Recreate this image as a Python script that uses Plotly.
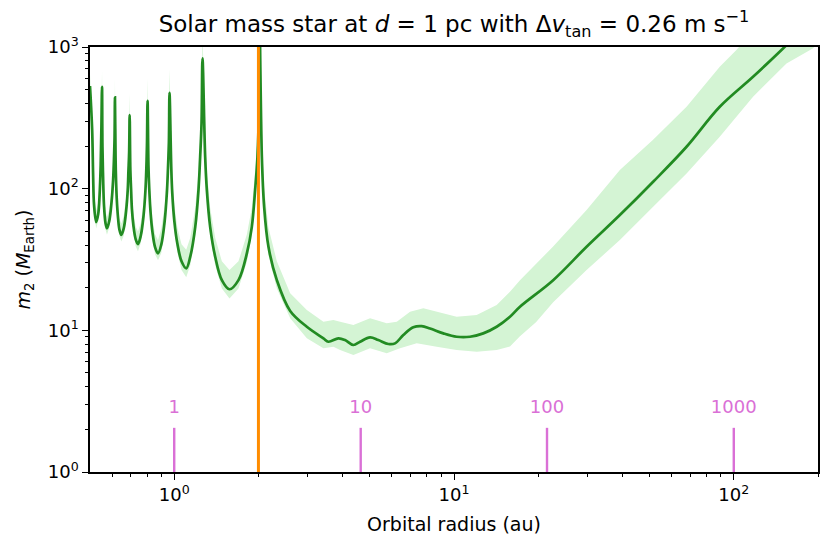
import plotly.graph_objects as go

# ---------------- data ----------------
# orbital radius (au) and median companion mass (Earth masses)
radius = [0.500, 0.509, 0.513, 0.517, 0.526,
          0.535, 0.541, 0.546, 0.549, 0.552, 0.554, 0.557, 0.561, 0.568, 0.575,
          0.586, 0.597, 0.605, 0.609, 0.612, 0.614, 0.617, 0.619, 0.623, 0.629, 0.637, 0.647,
          0.660, 0.673, 0.682, 0.686, 0.690, 0.693, 0.697, 0.701, 0.706, 0.715, 0.728, 0.742,
          0.759, 0.777, 0.789, 0.795, 0.799, 0.803, 0.809, 0.814, 0.823, 0.836, 0.854, 0.875,
          0.899, 0.924, 0.941, 0.950, 0.957, 0.962, 0.976, 0.984, 1.001, 1.026, 1.062, 1.104,
          1.141, 1.189, 1.221, 1.238, 1.252, 1.262, 1.290, 1.308, 1.344, 1.401, 1.480, 1.576,
          1.697, 1.818, 1.894, 1.946, 1.984, 2.007, 2.010, 2.057, 2.096, 2.172, 2.327, 2.597,
          2.978, 3.414, 3.557, 3.862, 4.080, 4.369, 4.616, 5.012, 5.364, 5.826, 6.156, 6.590,
          7.154, 7.665, 8.209, 9.158, 10.22, 11.41, 12.72, 14.21, 15.85, 17.21, 22.62, 29.78,
          39.16, 51.5, 67.8, 89.1, 117.2, 150.0, 172.1]

m2 = [530, 259, 124.7, 76.6, 58.1,
      66.2, 90.1, 146.8, 259, 524, 196.6, 118.8, 76.6, 57.2, 52.5,
      59.1, 80.4, 116.9, 161.8, 227.6, 440.9, 169.9, 122.7, 85.8, 64.1, 51.4, 47.1,
      52.4, 69.5, 97.7, 133.1, 181.3, 330.7, 135.3, 100.2, 71.8, 54.5, 44.1, 40.6,
      46.3, 64.5, 97.0, 139.8, 203.1, 417.2, 144.4, 101.0, 68.4, 49.4, 38.7, 34.9,
      40.3, 58.6, 92.5, 139.8, 211.5, 475.2, 140.9, 93.1, 59.1, 41.0, 30.7, 27.4,
      33.1, 53.8, 97.7, 168.0, 288.9, 831, 168.0, 97.7, 53.8, 33.1, 22.6, 19.5,
      22.6, 34.9, 53.8, 97.7, 168.0, 378.4, 3000, 168.0, 74.5, 38.9, 22.6, 13.7,
      10.6, 8.78, 8.31, 8.78, 8.54, 7.88, 8.31, 8.92, 8.54, 8.01, 8.09, 9.27,
      10.5, 10.7, 10.3, 9.52, 9.01, 9.01, 9.52, 10.6, 12.47, 14.68, 22.6, 38.9,
      65.1, 111.9, 197.6, 378.4, 616, 977, 1274]

# uncertainty band, inner part (same radii as the curve up to 2.327 au)
band_hi_inner = [640, 311, 150, 92, 70,
                 79.4, 108, 176, 311, 680, 236, 143, 92, 68.6, 63,
                 70.9, 96.5, 140, 194, 273, 600, 204, 147, 103, 76.9, 61.7, 56.5,
                 64.5, 85.5, 120, 164, 223, 470, 166, 123, 88.3, 67.0, 54.2, 49.9,
                 57.0, 79.3, 119, 172, 250, 600, 178, 124, 84.1, 60.8, 47.6, 43.3,
                 52.4, 76.2, 120, 182, 275, 700, 183, 121, 76.8, 53.3, 40.5, 37.0,
                 45.0, 73.2, 133, 228, 393, 1300, 228, 133, 73.2, 45.0, 30.7, 26.7,
                 30.7, 47.5, 73.2, 133, 228, 515, 4000, 228, 101, 52.9, 30.7]
band_lo_inner = [477, 233, 112, 69, 52.3,
                 59.6, 81.1, 132, 233, 472, 177, 107, 69, 51.5, 47.3,
                 53.2, 72.4, 105, 146, 205, 397, 153, 110, 77.2, 57.7, 46.3, 42.4,
                 46.6, 61.9, 87.0, 118, 161, 294, 120, 89.2, 63.9, 48.5, 39.2, 36.1,
                 41.2, 57.4, 86.3, 124, 181, 371, 129, 89.9, 60.9, 44.0, 34.4, 31.3,
                 35.1, 51.0, 80.5, 122, 184, 413, 123, 81.0, 51.4, 35.7, 26.7, 23.7,
                 28.8, 46.8, 85.0, 146, 251, 723, 146, 85.0, 46.8, 28.8, 19.7, 16.8,
                 19.7, 30.4, 46.8, 85.0, 146, 329, 2600, 146, 64.8, 33.8, 19.7]

# uncertainty band, outer part
band_hi_outer_radius = [2.597, 2.978, 3.414, 3.706, 3.916, 4.369, 5.012, 5.749, 6.244, 6.965,
                        7.770, 8.674, 10.22, 12.05, 14.21, 15.85, 17.21, 22.57, 29.78, 39.16,
                        51.36, 67.8, 89.1, 102.2, 109.5]
band_hi_outer = [18.24, 13.91, 11.50, 11.82, 11.50, 10.90, 12.15, 11.20, 11.50, 13.53,
                 14.30, 13.53, 12.47, 12.82, 15.09, 18.73, 22.6, 38.9, 70.6, 135.3,
                 220.3, 378.4, 725, 951, 1119]
band_lo_outer_radius = [2.597, 2.978, 3.414, 3.706, 3.916, 4.369, 5.012, 5.749, 6.413, 7.359,
                        8.674, 10.22, 12.05, 14.21, 15.85, 17.21, 19.63, 22.62, 29.78, 39.16,
                        51.5, 67.8, 89.1, 117.2, 154.3, 191.5, 202.8]
band_lo_outer = [12.15, 8.78, 7.46, 7.66, 7.26, 6.69, 7.46, 6.88, 7.46, 8.09,
                 7.66, 7.26, 7.06, 7.26, 7.7, 9.1, 11.4, 15.8, 26.65, 43.4,
                 74.5, 128.2, 232.4, 445.3, 766, 977, 1083]

# orbital period markers (radius in au for periods of 1, 10, 100, 1000 yr)
period_radius = [1.0, 4.64, 21.5, 100.0]
period_labels = ["1", "10", "100", "1000"]

# orange marker radius
marker_radius = 2.0

x_tickvals = [1, 10, 100]
x_ticktext = ["10<sup>0</sup>", "10<sup>1</sup>", "10<sup>2</sup>"]
x_minor = [0.6, 0.7, 0.8, 0.9, 2, 3, 4, 5, 6, 7, 8, 9, 20, 30, 40, 50, 60, 70, 80, 90, 200]
y_tickvals = [1, 10, 100, 1000]
y_ticktext = ["10<sup>0</sup>", "10<sup>1</sup>", "10<sup>2</sup>", "10<sup>3</sup>"]
y_minor = [2, 3, 4, 5, 6, 7, 8, 9, 20, 30, 40, 50, 60, 70, 80, 90,
           200, 300, 400, 500, 600, 700, 800, 900]

# ---------------- figure ----------------
FONT = "DejaVu Sans"
n_inner = len(band_hi_inner)
inner_radius = radius[:n_inner]

hi_x = inner_radius + band_hi_outer_radius
hi_y = band_hi_inner + band_hi_outer
lo_x = inner_radius + band_lo_outer_radius
lo_y = band_lo_inner + band_lo_outer

fig = go.Figure()

fig.add_trace(go.Scatter(
    x=hi_x + lo_x[::-1], y=hi_y + lo_y[::-1],
    fill="toself", fillcolor="#d4f4d4", mode="lines",
    line=dict(width=0, color="#d4f4d4"), hoverinfo="skip"))

fig.add_trace(go.Scatter(
    x=radius, y=m2, mode="lines",
    line=dict(color="#228B22", width=2.7, shape="spline", smoothing=1.0)))

fig.add_trace(go.Scatter(
    x=[marker_radius, marker_radius], y=[1, 1000], mode="lines",
    line=dict(color="#FF8C00", width=3)))

tick_top = 2.05
label_y = 2.82
px, py = [], []
for r in period_radius:
    px += [r, r, None]
    py += [1, tick_top, None]
fig.add_trace(go.Scatter(x=px, y=py, mode="lines",
                         line=dict(color="orchid", width=2.4)))
fig.add_trace(go.Scatter(x=period_radius, y=[label_y] * len(period_radius),
                         mode="text", text=period_labels,
                         textfont=dict(color="orchid", size=18, family=FONT)))

axis_common = dict(
    type="log", showgrid=False, zeroline=False, automargin=False,
    showline=True, linecolor="black", linewidth=1.5, mirror=True,
    ticks="outside", ticklen=6, tickwidth=1.4, tickcolor="black",
    tickfont=dict(family=FONT, size=18, color="black"),
)

# the page body adds an 8 px offset, so margins are shifted to compensate
fig.update_layout(
    width=831, height=548,
    margin=dict(l=82, r=21, t=39, b=84),
    plot_bgcolor="white", paper_bgcolor="white",
    showlegend=False,
    font=dict(family=FONT, color="black"),
    title=dict(
        text="Solar mass star at <i>d</i> = 1 pc with Δ<i>v</i><sub>tan</sub> = 0.26 m s<sup>−1</sup>",
        x=0.5, xref="paper", xanchor="center",
        y=1 - 16 / 548, yref="container", yanchor="middle", automargin=False,
        font=dict(family=FONT, size=23, color="black")),
    xaxis=dict(axis_common, range=[-0.30103, 2.30103],
               tickvals=x_tickvals, ticktext=x_ticktext,
               minor=dict(tickmode="array", tickvals=x_minor, ticks="outside",
                          ticklen=3.5, tickwidth=1.1, tickcolor="black", showgrid=False),
               title=dict(text="Orbital radius (au)", font=dict(family=FONT, size=19), standoff=13)),
    yaxis=dict(axis_common, range=[0, 3],
               tickvals=y_tickvals, ticktext=y_ticktext,
               minor=dict(tickmode="array", tickvals=y_minor, ticks="outside",
                          ticklen=3.5, tickwidth=1.1, tickcolor="black", showgrid=False),
               title=dict(text="<i>m</i><sub>2</sub> (<i>M</i><sub>Earth</sub>)",
                          font=dict(family=FONT, size=19), standoff=12)),
)

fig.write_html("out.html")
